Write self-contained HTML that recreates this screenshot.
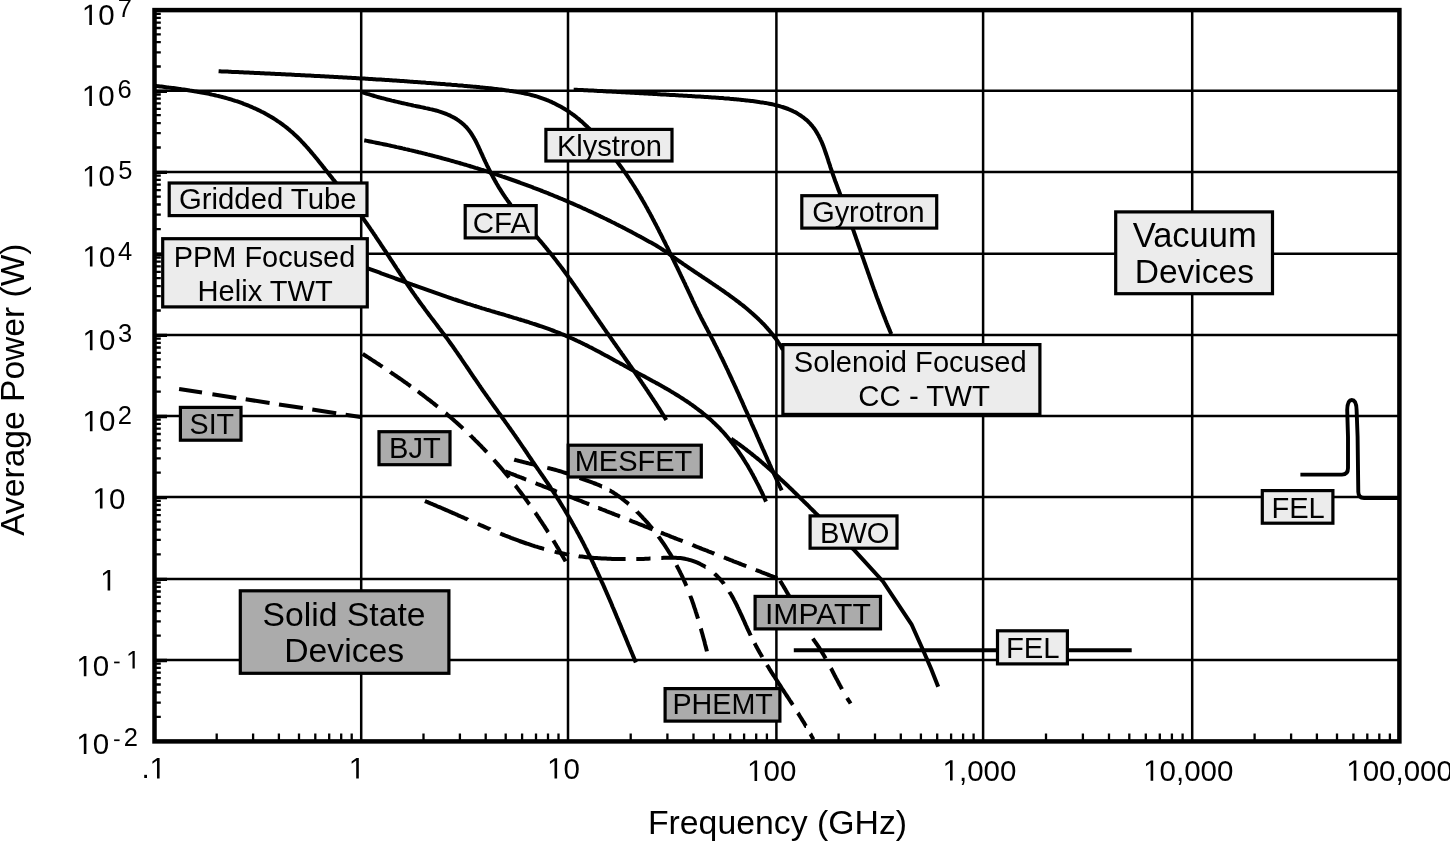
<!DOCTYPE html>
<html><head><meta charset="utf-8"><style>
html,body{margin:0;padding:0;background:#fff;overflow:hidden;}
svg{display:block;will-change:transform;}
text{font-family:"Liberation Sans",sans-serif;fill:#000;}
</style></head><body>
<svg width="1450" height="841" viewBox="0 0 1450 841">
<rect width="1450" height="841" fill="#fff"/>
<line x1="361.2" y1="10.1" x2="361.2" y2="741.4" stroke="#000" stroke-width="2.5"/>
<line x1="568" y1="10.1" x2="568" y2="741.4" stroke="#000" stroke-width="2.5"/>
<line x1="776.4" y1="10.1" x2="776.4" y2="741.4" stroke="#000" stroke-width="2.5"/>
<line x1="983.1" y1="10.1" x2="983.1" y2="741.4" stroke="#000" stroke-width="2.5"/>
<line x1="1192.2" y1="10.1" x2="1192.2" y2="741.4" stroke="#000" stroke-width="2.5"/>
<line x1="154.5" y1="660" x2="1399.4" y2="660" stroke="#000" stroke-width="2.5"/>
<line x1="154.5" y1="578.9" x2="1399.4" y2="578.9" stroke="#000" stroke-width="2.5"/>
<line x1="154.5" y1="497.1" x2="1399.4" y2="497.1" stroke="#000" stroke-width="2.5"/>
<line x1="154.5" y1="416" x2="1399.4" y2="416" stroke="#000" stroke-width="2.5"/>
<line x1="154.5" y1="334.9" x2="1399.4" y2="334.9" stroke="#000" stroke-width="2.5"/>
<line x1="154.5" y1="253.8" x2="1399.4" y2="253.8" stroke="#000" stroke-width="2.5"/>
<line x1="154.5" y1="171.9" x2="1399.4" y2="171.9" stroke="#000" stroke-width="2.5"/>
<line x1="154.5" y1="90.8" x2="1399.4" y2="90.8" stroke="#000" stroke-width="2.5"/>
<path d="M154.5,716.9h6.3 M154.5,702.6h6.3 M154.5,692.4h6.3 M154.5,684.5h6.3 M154.5,678.1h6.3 M154.5,672.6h6.3 M154.5,667.9h6.3 M154.5,663.7h6.3 M154.5,635.6h6.3 M154.5,621.3h6.3 M154.5,611.2h6.3 M154.5,603.3h6.3 M154.5,596.9h6.3 M154.5,591.5h6.3 M154.5,586.8h6.3 M154.5,582.6h6.3 M154.5,554.3h6.3 M154.5,539.9h6.3 M154.5,529.7h6.3 M154.5,521.7h6.3 M154.5,515.2h6.3 M154.5,509.8h6.3 M154.5,505h6.3 M154.5,500.8h6.3 M154.5,472.7h6.3 M154.5,458.4h6.3 M154.5,448.3h6.3 M154.5,440.4h6.3 M154.5,434h6.3 M154.5,428.6h6.3 M154.5,423.9h6.3 M154.5,419.7h6.3 M154.5,391.6h6.3 M154.5,377.3h6.3 M154.5,367.2h6.3 M154.5,359.3h6.3 M154.5,352.9h6.3 M154.5,347.5h6.3 M154.5,342.8h6.3 M154.5,338.6h6.3 M154.5,310.5h6.3 M154.5,296.2h6.3 M154.5,286.1h6.3 M154.5,278.2h6.3 M154.5,271.8h6.3 M154.5,266.4h6.3 M154.5,261.7h6.3 M154.5,257.5h6.3 M154.5,229.1h6.3 M154.5,214.7h6.3 M154.5,204.5h6.3 M154.5,196.6h6.3 M154.5,190.1h6.3 M154.5,184.6h6.3 M154.5,179.8h6.3 M154.5,175.6h6.3 M154.5,147.5h6.3 M154.5,133.2h6.3 M154.5,123.1h6.3 M154.5,115.2h6.3 M154.5,108.8h6.3 M154.5,103.4h6.3 M154.5,98.7h6.3 M154.5,94.5h6.3 M154.5,66.5h6.3 M154.5,52.3h6.3 M154.5,42.2h6.3 M154.5,34.4h6.3 M154.5,28h6.3 M154.5,22.6h6.3 M154.5,17.9h6.3 M154.5,13.8h6.3 M216.7,741.4v-7.8 M253.1,741.4v-7.8 M278.9,741.4v-7.8 M299,741.4v-7.8 M315.3,741.4v-7.8 M329.2,741.4v-7.8 M341.2,741.4v-7.8 M351.7,741.4v-7.8 M423.5,741.4v-7.8 M459.9,741.4v-7.8 M485.7,741.4v-7.8 M505.7,741.4v-7.8 M522.1,741.4v-7.8 M536,741.4v-7.8 M548,741.4v-7.8 M558.5,741.4v-7.8 M630.7,741.4v-7.8 M667.4,741.4v-7.8 M693.5,741.4v-7.8 M713.7,741.4v-7.8 M730.2,741.4v-7.8 M744.1,741.4v-7.8 M756.2,741.4v-7.8 M766.9,741.4v-7.8 M838.6,741.4v-7.8 M875,741.4v-7.8 M900.8,741.4v-7.8 M920.9,741.4v-7.8 M937.2,741.4v-7.8 M951.1,741.4v-7.8 M963.1,741.4v-7.8 M973.6,741.4v-7.8 M1046,741.4v-7.8 M1082.9,741.4v-7.8 M1109,741.4v-7.8 M1129.3,741.4v-7.8 M1145.8,741.4v-7.8 M1159.8,741.4v-7.8 M1171.9,741.4v-7.8 M1182.6,741.4v-7.8 M1254.6,741.4v-7.8 M1291.1,741.4v-7.8 M1316.9,741.4v-7.8 M1337,741.4v-7.8 M1353.4,741.4v-7.8 M1367.3,741.4v-7.8 M1379.3,741.4v-7.8 M1389.9,741.4v-7.8" stroke="#000" stroke-width="2.3" fill="none"/>
<path d="M154.5,660.5h12.5 M154.5,579.4h12.5 M154.5,497.6h12.5 M154.5,416.5h12.5 M154.5,335.4h12.5 M154.5,254.3h12.5 M154.5,172.4h12.5 M154.5,91.3h12.5" stroke="#000" stroke-width="3.3" fill="none"/>
<path d="M155.5,85.9 L157.0,86.1 L158.5,86.2 L160.0,86.4 L161.5,86.6 L163.0,86.8 L164.4,87.0 L165.9,87.2 L167.4,87.4 L168.9,87.6 L170.4,87.7 L171.9,87.9 L173.4,88.1 L174.9,88.3 L176.4,88.5 L177.9,88.7 L179.4,88.9 L180.8,89.1 L182.3,89.4 L183.8,89.6 L185.3,89.8 L186.8,90.0 L188.3,90.2 L189.8,90.5 L191.3,90.7 L192.8,90.9 L194.2,91.2 L195.7,91.4 L197.2,91.7 L198.7,92.0 L200.2,92.2 L201.6,92.5 L203.1,92.8 L204.6,93.0 L206.1,93.3 L207.6,93.6 L209.0,93.9 L210.5,94.2 L212.0,94.6 L213.4,94.9 L214.9,95.2 L216.4,95.6 L217.8,95.9 L219.3,96.3 L220.7,96.6 L222.2,97.0 L223.6,97.4 L225.1,97.8 L226.5,98.2 L228.0,98.6 L229.4,99.0 L230.9,99.4 L232.3,99.9 L233.7,100.3 L235.2,100.8 L236.6,101.2 L238.0,101.7 L239.4,102.2 L240.8,102.7 L242.3,103.2 L243.7,103.8 L245.1,104.3 L246.5,104.8 L247.9,105.4 L249.3,106.0 L250.7,106.6 L252.1,107.2 L253.4,107.8 L254.8,108.4 L256.2,109.0 L257.5,109.7 L258.9,110.3 L260.3,111.0 L261.6,111.7 L262.9,112.3 L264.3,113.0 L265.6,113.8 L266.9,114.5 L268.2,115.2 L269.5,116.0 L270.8,116.7 L272.1,117.5 L273.4,118.3 L274.7,119.1 L275.9,119.9 L277.2,120.8 L278.4,121.6 L279.7,122.4 L280.9,123.3 L282.1,124.2 L283.3,125.1 L284.5,126.0 L285.7,126.9 L286.9,127.8 L288.0,128.8 L289.2,129.7 L290.3,130.7 L291.5,131.7 L292.6,132.6 L293.7,133.7 L294.8,134.7 L295.9,135.7 L297.0,136.7 L298.0,137.8 L299.1,138.8 L300.2,139.9 L301.2,141.0 L302.2,142.1 L303.3,143.2 L304.3,144.3 L305.3,145.4 L306.3,146.5 L307.3,147.6 L308.3,148.7 L309.3,149.9 L310.3,151.0 L311.2,152.2 L312.2,153.3 L313.2,154.5 L314.2,155.6 L315.1,156.8 L316.1,158.0 L317.0,159.1 L318.0,160.3 L318.9,161.5 L319.9,162.7 L320.8,163.9 L321.8,165.0 L322.7,166.2 L323.6,167.4 L324.6,168.6 L325.5,169.8 L326.5,170.9 L327.4,172.1 L328.3,173.3 L329.3,174.5 L330.2,175.7 L331.2,176.8 L332.1,178.0 L333.0,179.2 L334.0,180.4 L334.9,181.5 L335.9,182.7 L336.8,183.9 L337.7,185.1 L338.7,186.3 L339.6,187.4 L340.5,188.6 L341.4,189.8 L342.4,191.0 L343.3,192.2 L344.2,193.4 L345.1,194.5 L346.1,195.7 L347.0,196.9 L347.9,198.1 L348.8,199.3 L349.7,200.5 L350.7,201.7 L351.6,202.9 L352.5,204.0 L353.4,205.2 L354.3,206.4 L355.2,207.6 L356.1,208.8 L357.0,210.0 L357.9,211.2 L358.8,212.5 L359.7,213.7 L360.5,214.9 L361.4,216.1 L362.3,217.3 L363.2,218.5 L364.1,219.7 L364.9,221.0 L365.8,222.2 L366.7,223.4 L367.5,224.7 L368.4,225.9 L369.2,227.1 L370.1,228.4 L370.9,229.6 L371.8,230.8 L372.6,232.1 L373.5,233.3 L374.3,234.6 L375.2,235.8 L376.0,237.1 L376.8,238.3 L377.7,239.6 L378.5,240.8 L379.4,242.1 L380.2,243.3 L381.0,244.6 L381.8,245.8 L382.7,247.1 L383.5,248.3 L384.3,249.6 L385.2,250.8 L386.0,252.1 L386.8,253.4 L387.6,254.6 L388.5,255.9 L389.3,257.1 L390.1,258.4 L390.9,259.7 L391.8,260.9 L392.6,262.2 L393.4,263.4 L394.2,264.7 L395.1,266.0 L395.9,267.2 L396.7,268.5 L397.5,269.7 L398.4,271.0 L399.2,272.2 L400.0,273.5 L400.9,274.8 L401.7,276.0 L402.5,277.3 L403.4,278.5 L404.2,279.8 L405.0,281.0 L405.9,282.3 L406.7,283.5 L407.6,284.8 L408.4,286.0 L409.3,287.2 L410.1,288.5 L411.0,289.7 L411.8,291.0 L412.7,292.2 L413.5,293.4 L414.4,294.6 L415.3,295.9 L416.1,297.1 L417.0,298.3 L417.9,299.5 L418.7,300.8 L419.6,302.0 L420.5,303.2 L421.4,304.4 L422.3,305.6 L423.2,306.8 L424.1,308.0 L424.9,309.2 L425.8,310.4 L426.7,311.6 L427.6,312.8 L428.5,314.0 L429.4,315.2 L430.3,316.4 L431.2,317.6 L432.1,318.8 L433.1,320.0 L434.0,321.2 L434.9,322.4 L435.8,323.6 L436.7,324.8 L437.6,326.0 L438.5,327.2 L439.4,328.4 L440.3,329.5 L441.2,330.7 L442.1,331.9 L443.0,333.1 L443.9,334.3 L444.8,335.5 L445.7,336.7 L446.6,337.9 L447.5,339.1 L448.4,340.3 L449.3,341.6 L450.1,342.8 L451.0,344.0 L451.9,345.2 L452.8,346.4 L453.6,347.7 L454.5,348.9 L455.3,350.1 L456.2,351.4 L457.1,352.6 L457.9,353.8 L458.8,355.1 L459.6,356.3 L460.5,357.5 L461.3,358.8 L462.1,360.0 L463.0,361.3 L463.8,362.5 L464.7,363.8 L465.5,365.0 L466.3,366.2 L467.2,367.5 L468.0,368.7 L468.9,370.0 L469.7,371.2 L470.5,372.5 L471.4,373.7 L472.2,375.0 L473.1,376.2 L473.9,377.5 L474.8,378.7 L475.6,379.9 L476.5,381.2 L477.3,382.4 L478.2,383.7 L479.0,384.9 L479.9,386.1 L480.7,387.4 L481.6,388.6 L482.4,389.8 L483.3,391.1 L484.2,392.3 L485.0,393.5 L485.9,394.8 L486.8,396.0 L487.6,397.2 L488.5,398.4 L489.4,399.7 L490.2,400.9 L491.1,402.1 L492.0,403.3 L492.9,404.6 L493.7,405.8 L494.6,407.0 L495.5,408.2 L496.4,409.4 L497.3,410.7 L498.1,411.9 L499.0,413.1 L499.9,414.3 L500.8,415.5 L501.6,416.8 L502.5,418.0 L503.4,419.2 L504.3,420.4 L505.1,421.6 L506.0,422.9 L506.9,424.1 L507.8,425.3 L508.6,426.5 L509.5,427.8 L510.4,429.0 L511.2,430.2 L512.1,431.4 L513.0,432.7 L513.8,433.9 L514.7,435.1 L515.6,436.4 L516.4,437.6 L517.3,438.8 L518.1,440.1 L519.0,441.3 L519.8,442.5 L520.7,443.8 L521.5,445.0 L522.4,446.3 L523.2,447.5 L524.0,448.7 L524.9,450.0 L525.7,451.2 L526.6,452.5 L527.4,453.7 L528.2,455.0 L529.1,456.2 L529.9,457.5 L530.8,458.7 L531.6,459.9 L532.4,461.2 L533.3,462.4 L534.1,463.7 L535.0,464.9 L535.8,466.2 L536.7,467.4 L537.5,468.6 L538.4,469.9 L539.3,471.1 L540.1,472.3 L541.0,473.6 L541.8,474.8 L542.7,476.0 L543.5,477.3 L544.4,478.5 L545.2,479.8 L546.1,481.0 L546.9,482.2 L547.8,483.5 L548.6,484.7 L549.5,486.0 L550.3,487.2 L551.1,488.5 L551.9,489.7 L552.8,491.0 L553.6,492.3 L554.4,493.5 L555.2,494.8 L556.0,496.0 L556.9,497.3 L557.7,498.6 L558.5,499.8 L559.3,501.1 L560.1,502.4 L560.8,503.7 L561.6,504.9 L562.4,506.2 L563.2,507.5 L564.0,508.8 L564.8,510.1 L565.5,511.4 L566.3,512.7 L567.1,514.0 L567.8,515.2 L568.6,516.5 L569.3,517.8 L570.1,519.1 L570.8,520.4 L571.6,521.7 L572.3,523.0 L573.1,524.4 L573.8,525.7 L574.5,527.0 L575.3,528.3 L576.0,529.6 L576.7,530.9 L577.4,532.2 L578.2,533.6 L578.9,534.9 L579.6,536.2 L580.3,537.5 L581.0,538.8 L581.7,540.2 L582.4,541.5 L583.1,542.8 L583.8,544.2 L584.5,545.5 L585.1,546.8 L585.8,548.2 L586.5,549.5 L587.2,550.9 L587.8,552.2 L588.5,553.6 L589.2,554.9 L589.8,556.2 L590.5,557.6 L591.2,558.9 L591.8,560.3 L592.5,561.7 L593.1,563.0 L593.8,564.4 L594.4,565.7 L595.0,567.1 L595.7,568.4 L596.3,569.8 L597.0,571.2 L597.6,572.5 L598.2,573.9 L598.8,575.3 L599.5,576.6 L600.1,578.0 L600.7,579.4 L601.3,580.7 L601.9,582.1 L602.6,583.5 L603.2,584.9 L603.8,586.2 L604.4,587.6 L605.0,589.0 L605.6,590.4 L606.2,591.7 L606.8,593.1 L607.4,594.5 L608.0,595.9 L608.6,597.3 L609.2,598.7 L609.8,600.0 L610.4,601.4 L611.0,602.8 L611.6,604.2 L612.1,605.6 L612.7,607.0 L613.3,608.3 L613.9,609.7 L614.5,611.1 L615.1,612.5 L615.6,613.9 L616.2,615.3 L616.8,616.7 L617.4,618.1 L618.0,619.4 L618.5,620.8 L619.1,622.2 L619.7,623.6 L620.3,625.0 L620.9,626.4 L621.4,627.8 L622.0,629.2 L622.6,630.6 L623.2,632.0 L623.7,633.3 L624.3,634.7 L624.9,636.1 L625.5,637.5 L626.0,638.9 L626.6,640.3 L627.2,641.7 L627.8,643.1 L628.3,644.5 L628.9,645.8 L629.5,647.2 L630.1,648.6 L630.6,650.0 L631.2,651.4 L631.8,652.8 L632.4,654.2 L632.9,655.6 L633.5,656.9 L634.1,658.3 L634.7,659.7 L635.3,661.1 L635.8,662.5" fill="none" stroke="#000" stroke-width="4.0" stroke-linejoin="round" stroke-linecap="butt"/>
<path d="M218.6,71.2 L220.1,71.3 L221.6,71.4 L223.1,71.4 L224.6,71.5 L226.1,71.6 L227.6,71.6 L229.1,71.7 L230.6,71.8 L232.1,71.9 L233.6,71.9 L235.1,72.0 L236.6,72.1 L238.1,72.1 L239.6,72.2 L241.2,72.3 L242.7,72.3 L244.2,72.4 L245.7,72.5 L247.2,72.6 L248.7,72.6 L250.2,72.7 L251.7,72.8 L253.2,72.8 L254.7,72.9 L256.2,73.0 L257.7,73.0 L259.2,73.1 L260.7,73.2 L262.2,73.3 L263.7,73.3 L265.2,73.4 L266.7,73.5 L268.2,73.5 L269.7,73.6 L271.2,73.7 L272.7,73.8 L274.2,73.8 L275.7,73.9 L277.2,74.0 L278.7,74.1 L280.2,74.1 L281.8,74.2 L283.3,74.3 L284.8,74.3 L286.3,74.4 L287.8,74.5 L289.3,74.6 L290.8,74.6 L292.3,74.7 L293.8,74.8 L295.3,74.9 L296.8,74.9 L298.3,75.0 L299.8,75.1 L301.3,75.2 L302.8,75.2 L304.3,75.3 L305.8,75.4 L307.3,75.5 L308.8,75.6 L310.3,75.6 L311.8,75.7 L313.3,75.8 L314.8,75.9 L316.3,75.9 L317.8,76.0 L319.4,76.1 L320.9,76.2 L322.4,76.3 L323.9,76.3 L325.4,76.4 L326.9,76.5 L328.4,76.6 L329.9,76.7 L331.4,76.7 L332.9,76.8 L334.4,76.9 L335.9,77.0 L337.4,77.1 L338.9,77.2 L340.4,77.2 L341.9,77.3 L343.4,77.4 L344.9,77.5 L346.4,77.6 L347.9,77.7 L349.4,77.7 L350.9,77.8 L352.4,77.9 L353.9,78.0 L355.4,78.1 L356.9,78.2 L358.4,78.3 L359.9,78.4 L361.5,78.4 L363.0,78.5 L364.5,78.6 L366.0,78.7 L367.5,78.8 L369.0,78.9 L370.5,79.0 L372.0,79.1 L373.5,79.2 L375.0,79.3 L376.5,79.4 L378.0,79.5 L379.5,79.6 L381.0,79.6 L382.5,79.7 L384.0,79.8 L385.5,79.9 L387.0,80.0 L388.5,80.1 L390.0,80.2 L391.5,80.3 L393.0,80.4 L394.5,80.5 L396.0,80.6 L397.5,80.7 L399.0,80.8 L400.5,80.9 L402.0,81.0 L403.5,81.1 L405.0,81.2 L406.5,81.3 L408.0,81.4 L409.5,81.6 L411.0,81.7 L412.5,81.8 L414.0,81.9 L415.5,82.0 L417.0,82.1 L418.5,82.2 L420.0,82.3 L421.5,82.4 L423.0,82.5 L424.5,82.6 L426.0,82.8 L427.5,82.9 L429.0,83.0 L430.5,83.1 L432.0,83.2 L433.5,83.3 L435.0,83.4 L436.5,83.6 L438.0,83.7 L439.5,83.8 L441.0,83.9 L442.5,84.0 L444.0,84.1 L445.5,84.3 L447.0,84.4 L448.5,84.5 L450.0,84.6 L451.5,84.8 L453.0,84.9 L454.5,85.0 L456.0,85.1 L457.5,85.3 L459.0,85.4 L460.5,85.5 L462.0,85.6 L463.5,85.8 L465.0,85.9 L466.5,86.0 L468.0,86.2 L469.5,86.3 L471.0,86.4 L472.5,86.6 L474.0,86.7 L475.5,86.8 L477.0,87.0 L478.5,87.1 L480.0,87.3 L481.5,87.4 L483.0,87.6 L484.5,87.7 L486.0,87.9 L487.5,88.0 L489.0,88.2 L490.5,88.3 L492.0,88.5 L493.5,88.7 L495.0,88.9 L496.4,89.0 L497.9,89.2 L499.4,89.4 L500.9,89.6 L502.4,89.8 L503.9,90.0 L505.4,90.2 L506.9,90.4 L508.4,90.6 L509.9,90.9 L511.4,91.1 L512.9,91.3 L514.4,91.6 L515.9,91.8 L517.4,92.0 L518.9,92.3 L520.4,92.6 L521.9,92.9 L523.4,93.1 L524.9,93.5 L526.3,93.8 L527.8,94.1 L529.3,94.4 L530.7,94.8 L532.2,95.2 L533.7,95.6 L535.1,96.0 L536.6,96.4 L538.0,96.8 L539.4,97.3 L540.8,97.8 L542.3,98.3 L543.7,98.8 L545.1,99.3 L546.5,99.9 L547.8,100.4 L549.2,101.0 L550.6,101.6 L552.0,102.2 L553.3,102.9 L554.7,103.5 L556.0,104.2 L557.3,104.9 L558.6,105.6 L560.0,106.3 L561.3,107.0 L562.6,107.8 L563.8,108.5 L565.1,109.3 L566.4,110.1 L567.6,110.9 L568.9,111.7 L570.1,112.6 L571.3,113.4 L572.6,114.3 L573.8,115.2 L575.0,116.1 L576.2,117.0 L577.3,118.0 L578.5,118.9 L579.7,119.9 L580.8,120.9 L581.9,121.8 L583.1,122.9 L584.2,123.9 L585.3,124.9 L586.4,125.9 L587.5,127.0 L588.5,128.1 L589.6,129.1 L590.6,130.2 L591.7,131.3 L592.7,132.4 L593.8,133.5 L594.8,134.7 L595.8,135.8 L596.8,136.9 L597.8,138.0 L598.8,139.2 L599.8,140.3 L600.8,141.5 L601.8,142.6 L602.8,143.8 L603.8,145.0 L604.7,146.1 L605.7,147.3 L606.7,148.4 L607.6,149.6 L608.6,150.8 L609.5,151.9 L610.5,153.1 L611.4,154.3 L612.3,155.5 L613.3,156.7 L614.2,157.8 L615.1,159.0 L616.0,160.2 L616.9,161.4 L617.8,162.6 L618.7,163.8 L619.6,165.0 L620.5,166.2 L621.4,167.4 L622.3,168.6 L623.1,169.8 L624.0,171.1 L624.9,172.3 L625.7,173.5 L626.6,174.7 L627.4,176.0 L628.3,177.2 L629.1,178.5 L629.9,179.7 L630.7,181.0 L631.6,182.2 L632.4,183.5 L633.2,184.8 L634.0,186.0 L634.8,187.3 L635.6,188.6 L636.4,189.8 L637.1,191.1 L637.9,192.4 L638.7,193.7 L639.5,195.0 L640.2,196.3 L641.0,197.6 L641.8,198.9 L642.5,200.2 L643.3,201.5 L644.0,202.8 L644.8,204.1 L645.5,205.4 L646.2,206.7 L647.0,208.0 L647.7,209.4 L648.4,210.7 L649.1,212.0 L649.9,213.3 L650.6,214.7 L651.3,216.0 L652.0,217.3 L652.7,218.7 L653.4,220.0 L654.1,221.3 L654.8,222.7 L655.5,224.0 L656.2,225.3 L656.9,226.7 L657.6,228.0 L658.3,229.4 L659.0,230.7 L659.6,232.1 L660.3,233.4 L661.0,234.8 L661.7,236.1 L662.4,237.5 L663.0,238.8 L663.7,240.2 L664.4,241.5 L665.1,242.9 L665.7,244.2 L666.4,245.6 L667.1,246.9 L667.7,248.3 L668.4,249.6 L669.1,251.0 L669.7,252.3 L670.4,253.7 L671.0,255.0 L671.7,256.4 L672.4,257.7 L673.0,259.1 L673.7,260.4 L674.3,261.8 L675.0,263.1 L675.7,264.5 L676.3,265.8 L677.0,267.2 L677.6,268.5 L678.3,269.9 L678.9,271.2 L679.6,272.6 L680.2,273.9 L680.9,275.3 L681.5,276.6 L682.2,278.0 L682.8,279.4 L683.5,280.7 L684.1,282.1 L684.8,283.4 L685.4,284.8 L686.0,286.1 L686.7,287.5 L687.3,288.9 L688.0,290.2 L688.6,291.6 L689.2,292.9 L689.9,294.3 L690.5,295.7 L691.1,297.0 L691.8,298.4 L692.4,299.8 L693.0,301.1 L693.7,302.5 L694.3,303.8 L695.0,305.2 L695.6,306.6 L696.3,307.9 L696.9,309.3 L697.6,310.6 L698.2,312.0 L698.9,313.3 L699.6,314.7 L700.3,316.0 L700.9,317.4 L701.6,318.7 L702.3,320.0 L703.0,321.4 L703.7,322.7 L704.4,324.0 L705.1,325.4 L705.8,326.7 L706.5,328.0 L707.2,329.3 L707.9,330.7 L708.6,332.0 L709.3,333.3 L710.0,334.7 L710.7,336.0 L711.4,337.3 L712.1,338.7 L712.8,340.0 L713.5,341.3 L714.1,342.7 L714.8,344.0 L715.5,345.4 L716.2,346.7 L716.8,348.0 L717.5,349.4 L718.2,350.7 L718.9,352.1 L719.5,353.4 L720.2,354.8 L720.8,356.1 L721.5,357.5 L722.2,358.8 L722.8,360.2 L723.5,361.5 L724.1,362.9 L724.8,364.2 L725.4,365.6 L726.1,367.0 L726.7,368.3 L727.4,369.7 L728.0,371.0 L728.6,372.4 L729.3,373.8 L729.9,375.1 L730.5,376.5 L731.2,377.9 L731.8,379.2 L732.4,380.6 L733.1,382.0 L733.7,383.3 L734.3,384.7 L735.0,386.1 L735.6,387.4 L736.2,388.8 L736.8,390.2 L737.4,391.5 L738.1,392.9 L738.7,394.3 L739.3,395.7 L739.9,397.0 L740.5,398.4 L741.2,399.8 L741.8,401.1 L742.4,402.5 L743.0,403.9 L743.6,405.3 L744.2,406.6 L744.8,408.0 L745.4,409.4 L746.1,410.8 L746.7,412.2 L747.3,413.5 L747.9,414.9 L748.5,416.3 L749.1,417.7 L749.7,419.0 L750.3,420.4 L750.9,421.8 L751.5,423.2 L752.1,424.6 L752.7,425.9 L753.3,427.3 L753.9,428.7 L754.6,430.1 L755.2,431.4 L755.8,432.8 L756.4,434.2 L757.0,435.6 L757.6,437.0 L758.2,438.3 L758.8,439.7 L759.4,441.1 L760.0,442.5 L760.6,443.8 L761.2,445.2 L761.8,446.6 L762.4,448.0 L763.0,449.4 L763.7,450.7 L764.3,452.1 L764.9,453.5 L765.5,454.9 L766.1,456.2 L766.7,457.6 L767.3,459.0 L767.9,460.4 L768.6,461.7 L769.2,463.1 L769.8,464.5 L770.4,465.8 L771.0,467.2 L771.6,468.6 L772.3,470.0 L772.9,471.3 L773.5,472.7 L774.1,474.1 L774.7,475.4 L775.4,476.8 L776.0,478.2 L776.6,479.5 L777.3,480.9 L777.9,482.3 L778.5,483.6 L779.2,485.0 L779.8,486.4 L780.4,487.7 L781.1,489.1 L781.7,490.4" fill="none" stroke="#000" stroke-width="4.0" stroke-linejoin="round" stroke-linecap="butt"/>
<path d="M573.7,89.7 L575.2,89.7 L576.7,89.8 L578.2,89.9 L579.7,90.0 L581.2,90.0 L582.7,90.1 L584.2,90.2 L585.7,90.3 L587.2,90.3 L588.7,90.4 L590.2,90.5 L591.7,90.6 L593.2,90.6 L594.7,90.7 L596.2,90.8 L597.7,90.9 L599.2,91.0 L600.7,91.0 L602.2,91.1 L603.7,91.2 L605.2,91.3 L606.7,91.4 L608.2,91.4 L609.7,91.5 L611.2,91.6 L612.7,91.7 L614.2,91.8 L615.7,91.8 L617.3,91.9 L618.8,92.0 L620.3,92.1 L621.8,92.2 L623.3,92.2 L624.8,92.3 L626.3,92.4 L627.8,92.5 L629.3,92.6 L630.9,92.7 L632.4,92.7 L633.9,92.8 L635.4,92.9 L636.9,93.0 L638.4,93.1 L639.9,93.2 L641.4,93.2 L643.0,93.3 L644.5,93.4 L646.0,93.5 L647.5,93.6 L649.0,93.7 L650.5,93.7 L652.0,93.8 L653.5,93.9 L655.0,94.0 L656.6,94.1 L658.1,94.2 L659.6,94.3 L661.1,94.4 L662.6,94.4 L664.1,94.5 L665.6,94.6 L667.1,94.7 L668.6,94.8 L670.1,94.9 L671.6,95.0 L673.1,95.0 L674.6,95.1 L676.2,95.2 L677.7,95.3 L679.2,95.4 L680.7,95.5 L682.2,95.6 L683.7,95.7 L685.2,95.8 L686.7,95.8 L688.2,95.9 L689.7,96.0 L691.2,96.1 L692.7,96.2 L694.2,96.3 L695.6,96.4 L697.1,96.5 L698.6,96.6 L700.1,96.6 L701.6,96.7 L703.1,96.8 L704.6,96.9 L706.1,97.0 L707.6,97.1 L709.1,97.2 L710.6,97.3 L712.0,97.4 L713.5,97.5 L715.0,97.6 L716.5,97.7 L718.0,97.8 L719.5,97.9 L721.0,98.0 L722.5,98.1 L724.0,98.3 L725.4,98.4 L726.9,98.5 L728.4,98.6 L729.9,98.8 L731.4,98.9 L732.9,99.0 L734.4,99.2 L735.9,99.3 L737.4,99.4 L738.9,99.6 L740.4,99.7 L741.9,99.9 L743.4,100.1 L744.9,100.2 L746.4,100.4 L748.0,100.6 L749.5,100.7 L751.0,100.9 L752.5,101.1 L754.0,101.3 L755.5,101.5 L757.1,101.7 L758.6,101.9 L760.1,102.2 L761.6,102.4 L763.1,102.6 L764.7,102.9 L766.2,103.1 L767.7,103.4 L769.2,103.7 L770.7,104.0 L772.2,104.3 L773.7,104.6 L775.2,105.0 L776.7,105.4 L778.1,105.7 L779.6,106.1 L781.1,106.6 L782.5,107.0 L783.9,107.5 L785.4,108.0 L786.8,108.5 L788.2,109.0 L789.6,109.6 L790.9,110.2 L792.3,110.8 L793.6,111.5 L795.0,112.1 L796.3,112.8 L797.6,113.6 L798.8,114.4 L800.1,115.2 L801.3,116.0 L802.5,116.9 L803.7,117.7 L804.9,118.7 L806.0,119.6 L807.1,120.6 L808.2,121.6 L809.2,122.7 L810.2,123.7 L811.2,124.8 L812.2,125.9 L813.1,127.1 L814.0,128.3 L814.8,129.4 L815.7,130.7 L816.4,131.9 L817.2,133.2 L817.9,134.5 L818.7,135.8 L819.3,137.1 L820.0,138.4 L820.6,139.8 L821.3,141.2 L821.9,142.5 L822.4,143.9 L823.0,145.3 L823.6,146.8 L824.1,148.2 L824.6,149.6 L825.1,151.1 L825.6,152.5 L826.1,154.0 L826.6,155.4 L827.1,156.9 L827.6,158.4 L828.1,159.8 L828.5,161.3 L829.0,162.8 L829.5,164.2 L830.0,165.7 L830.4,167.1 L830.9,168.6 L831.4,170.0 L831.9,171.5 L832.4,172.9 L832.9,174.4 L833.4,175.8 L833.9,177.2 L834.4,178.6 L834.9,180.1 L835.4,181.5 L836.0,182.9 L836.5,184.3 L837.0,185.7 L837.5,187.1 L838.0,188.5 L838.5,189.9 L839.1,191.3 L839.6,192.7 L840.1,194.2 L840.6,195.6 L841.2,197.0 L841.7,198.4 L842.2,199.8 L842.7,201.2 L843.3,202.6 L843.8,204.0 L844.3,205.4 L844.8,206.8 L845.3,208.2 L845.9,209.6 L846.4,211.0 L846.9,212.4 L847.4,213.8 L847.9,215.2 L848.4,216.6 L849.0,218.0 L849.5,219.4 L850.0,220.8 L850.5,222.2 L851.0,223.6 L851.5,225.1 L852.0,226.5 L852.5,227.9 L853.0,229.3 L853.5,230.7 L854.0,232.1 L854.5,233.6 L855.0,235.0 L855.5,236.4 L856.0,237.8 L856.5,239.3 L857.0,240.7 L857.5,242.1 L858.0,243.5 L858.5,245.0 L859.0,246.4 L859.5,247.8 L860.0,249.2 L860.5,250.7 L860.9,252.1 L861.4,253.5 L861.9,254.9 L862.4,256.4 L862.9,257.8 L863.4,259.2 L863.9,260.6 L864.4,262.1 L864.9,263.5 L865.4,264.9 L865.9,266.4 L866.4,267.8 L866.9,269.2 L867.4,270.6 L867.9,272.1 L868.4,273.5 L868.9,274.9 L869.4,276.3 L869.9,277.8 L870.4,279.2 L870.9,280.6 L871.4,282.0 L871.9,283.5 L872.4,284.9 L872.9,286.3 L873.4,287.7 L873.9,289.2 L874.5,290.6 L875.0,292.0 L875.5,293.4 L876.0,294.8 L876.5,296.3 L877.0,297.7 L877.6,299.1 L878.1,300.5 L878.6,301.9 L879.1,303.3 L879.7,304.7 L880.2,306.2 L880.7,307.6 L881.3,309.0 L881.8,310.4 L882.3,311.8 L882.9,313.2 L883.4,314.6 L884.0,316.0 L884.5,317.4 L885.1,318.8 L885.6,320.2 L886.2,321.6 L886.7,323.0 L887.3,324.4 L887.8,325.8 L888.4,327.2 L889.0,328.5 L889.5,329.9 L890.1,331.3 L890.7,332.7 L891.3,334.1" fill="none" stroke="#000" stroke-width="4.0" stroke-linejoin="round" stroke-linecap="butt"/>
<path d="M361.2,91.9 L362.7,92.4 L364.1,92.9 L365.6,93.3 L367.1,93.8 L368.5,94.2 L370.0,94.7 L371.4,95.1 L372.9,95.5 L374.3,96.0 L375.8,96.4 L377.2,96.8 L378.7,97.2 L380.1,97.6 L381.5,98.0 L383.0,98.3 L384.4,98.7 L385.9,99.1 L387.3,99.5 L388.8,99.8 L390.2,100.2 L391.7,100.6 L393.1,100.9 L394.6,101.3 L396.0,101.6 L397.5,101.9 L398.9,102.3 L400.4,102.6 L401.9,103.0 L403.3,103.3 L404.8,103.6 L406.2,103.9 L407.7,104.3 L409.2,104.6 L410.7,104.9 L412.1,105.2 L413.6,105.6 L415.1,105.9 L416.6,106.2 L418.1,106.5 L419.6,106.8 L421.0,107.1 L422.5,107.4 L424.0,107.7 L425.6,108.1 L427.1,108.4 L428.6,108.7 L430.1,109.1 L431.6,109.4 L433.1,109.8 L434.5,110.1 L436.0,110.5 L437.5,110.9 L439.0,111.4 L440.4,111.8 L441.9,112.3 L443.3,112.8 L444.7,113.3 L446.1,113.9 L447.5,114.5 L448.9,115.1 L450.3,115.7 L451.6,116.4 L452.9,117.1 L454.3,117.8 L455.5,118.5 L456.8,119.3 L458.0,120.1 L459.2,121.0 L460.4,121.9 L461.6,122.8 L462.7,123.7 L463.8,124.7 L464.8,125.7 L465.9,126.7 L466.9,127.8 L467.8,128.9 L468.7,130.1 L469.6,131.2 L470.5,132.4 L471.3,133.7 L472.1,134.9 L472.9,136.2 L473.7,137.5 L474.4,138.8 L475.2,140.1 L475.9,141.5 L476.6,142.9 L477.2,144.2 L477.9,145.6 L478.6,147.0 L479.2,148.4 L479.9,149.8 L480.5,151.2 L481.1,152.6 L481.8,154.0 L482.4,155.4 L483.0,156.8 L483.7,158.2 L484.3,159.6 L485.0,161.0 L485.6,162.3 L486.3,163.7 L486.9,165.1 L487.6,166.5 L488.3,167.8 L488.9,169.2 L489.6,170.5 L490.3,171.9 L491.0,173.2 L491.7,174.5 L492.4,175.9 L493.1,177.2 L493.8,178.5 L494.5,179.8 L495.2,181.1 L496.0,182.4 L496.7,183.7 L497.5,185.0 L498.2,186.3 L499.0,187.6 L499.8,188.8 L500.6,190.1 L501.4,191.4 L502.2,192.6 L503.0,193.9 L503.8,195.1 L504.7,196.4 L505.5,197.6 L506.4,198.8 L507.2,200.0 L508.1,201.3 L509.0,202.5 L509.9,203.7 L510.7,204.9 L511.6,206.1 L512.5,207.3 L513.5,208.5 L514.4,209.7 L515.3,210.9 L516.2,212.1 L517.2,213.2 L518.1,214.4 L519.0,215.6 L520.0,216.8 L520.9,217.9 L521.9,219.1 L522.8,220.3 L523.8,221.4 L524.8,222.6 L525.7,223.8 L526.7,224.9 L527.7,226.1 L528.7,227.3 L529.6,228.4 L530.6,229.6 L531.6,230.7 L532.6,231.9 L533.5,233.0 L534.5,234.2 L535.5,235.3 L536.5,236.5 L537.5,237.7 L538.4,238.8 L539.4,240.0 L540.4,241.1 L541.4,242.3 L542.4,243.5 L543.3,244.6 L544.3,245.8 L545.3,246.9 L546.2,248.1 L547.2,249.3 L548.1,250.5 L549.1,251.6 L550.1,252.8 L551.0,254.0 L552.0,255.2 L552.9,256.3 L553.8,257.5 L554.8,258.7 L555.7,259.9 L556.6,261.1 L557.5,262.3 L558.4,263.5 L559.4,264.7 L560.3,265.9 L561.2,267.1 L562.1,268.3 L563.0,269.5 L563.9,270.8 L564.8,272.0 L565.7,273.2 L566.5,274.4 L567.4,275.6 L568.3,276.8 L569.2,278.1 L570.1,279.3 L571.0,280.5 L571.8,281.8 L572.7,283.0 L573.6,284.2 L574.4,285.4 L575.3,286.7 L576.2,287.9 L577.0,289.1 L577.9,290.4 L578.8,291.6 L579.6,292.9 L580.5,294.1 L581.3,295.3 L582.2,296.6 L583.0,297.8 L583.9,299.1 L584.7,300.3 L585.6,301.5 L586.4,302.8 L587.3,304.0 L588.2,305.3 L589.0,306.5 L589.9,307.8 L590.7,309.0 L591.6,310.2 L592.4,311.5 L593.3,312.7 L594.1,314.0 L595.0,315.2 L595.8,316.5 L596.7,317.7 L597.5,318.9 L598.4,320.2 L599.2,321.4 L600.1,322.7 L601.0,323.9 L601.8,325.1 L602.7,326.4 L603.5,327.6 L604.4,328.9 L605.3,330.1 L606.1,331.3 L607.0,332.6 L607.9,333.8 L608.7,335.0 L609.6,336.3 L610.5,337.5 L611.3,338.8 L612.2,340.0 L613.1,341.2 L613.9,342.5 L614.8,343.7 L615.7,344.9 L616.5,346.2 L617.4,347.4 L618.3,348.6 L619.1,349.9 L620.0,351.1 L620.9,352.3 L621.7,353.6 L622.6,354.8 L623.5,356.0 L624.3,357.3 L625.2,358.5 L626.1,359.7 L626.9,361.0 L627.8,362.2 L628.7,363.5 L629.5,364.7 L630.4,365.9 L631.3,367.2 L632.1,368.4 L633.0,369.7 L633.8,370.9 L634.7,372.1 L635.6,373.4 L636.4,374.6 L637.3,375.9 L638.1,377.1 L639.0,378.3 L639.8,379.6 L640.7,380.8 L641.5,382.1 L642.4,383.3 L643.2,384.6 L644.1,385.8 L644.9,387.1 L645.8,388.3 L646.6,389.6 L647.5,390.8 L648.3,392.1 L649.1,393.3 L650.0,394.6 L650.8,395.8 L651.6,397.1 L652.5,398.4 L653.3,399.6 L654.1,400.9 L655.0,402.1 L655.8,403.4 L656.6,404.7 L657.4,405.9 L658.2,407.2 L659.1,408.5 L659.9,409.7 L660.7,411.0 L661.5,412.3 L662.3,413.6 L663.1,414.8 L663.9,416.1 L664.7,417.4 L665.5,418.7 L666.3,420.0" fill="none" stroke="#000" stroke-width="4.0" stroke-linejoin="round" stroke-linecap="butt"/>
<path d="M364.2,140.4 L365.7,140.6 L367.2,140.9 L368.7,141.2 L370.1,141.5 L371.6,141.8 L373.1,142.1 L374.6,142.4 L376.0,142.7 L377.5,143.0 L379.0,143.3 L380.5,143.6 L382.0,143.9 L383.4,144.2 L384.9,144.5 L386.4,144.8 L387.9,145.1 L389.3,145.4 L390.8,145.8 L392.3,146.1 L393.7,146.4 L395.2,146.7 L396.7,147.1 L398.2,147.4 L399.6,147.7 L401.1,148.0 L402.6,148.4 L404.0,148.7 L405.5,149.1 L407.0,149.4 L408.4,149.7 L409.9,150.1 L411.4,150.4 L412.8,150.8 L414.3,151.1 L415.8,151.5 L417.2,151.8 L418.7,152.2 L420.2,152.5 L421.6,152.9 L423.1,153.3 L424.6,153.6 L426.0,154.0 L427.5,154.4 L428.9,154.7 L430.4,155.1 L431.9,155.5 L433.3,155.9 L434.8,156.3 L436.2,156.6 L437.7,157.0 L439.1,157.4 L440.6,157.8 L442.1,158.2 L443.5,158.6 L445.0,159.0 L446.4,159.4 L447.9,159.8 L449.3,160.2 L450.8,160.6 L452.2,161.0 L453.7,161.4 L455.1,161.8 L456.6,162.2 L458.0,162.6 L459.5,163.0 L460.9,163.5 L462.4,163.9 L463.8,164.3 L465.3,164.7 L466.7,165.2 L468.1,165.6 L469.6,166.0 L471.0,166.5 L472.5,166.9 L473.9,167.3 L475.4,167.8 L476.8,168.2 L478.2,168.7 L479.7,169.1 L481.1,169.6 L482.5,170.0 L484.0,170.5 L485.4,170.9 L486.8,171.4 L488.3,171.8 L489.7,172.3 L491.1,172.8 L492.6,173.2 L494.0,173.7 L495.4,174.2 L496.9,174.6 L498.3,175.1 L499.7,175.6 L501.2,176.1 L502.6,176.6 L504.0,177.0 L505.4,177.5 L506.9,178.0 L508.3,178.5 L509.7,179.0 L511.1,179.5 L512.5,180.0 L514.0,180.5 L515.4,181.0 L516.8,181.5 L518.2,182.0 L519.6,182.5 L521.0,183.1 L522.5,183.6 L523.9,184.1 L525.3,184.6 L526.7,185.1 L528.1,185.7 L529.5,186.2 L530.9,186.7 L532.3,187.2 L533.7,187.8 L535.2,188.3 L536.6,188.8 L538.0,189.4 L539.4,189.9 L540.8,190.5 L542.2,191.0 L543.6,191.6 L545.0,192.1 L546.4,192.7 L547.8,193.2 L549.2,193.8 L550.6,194.4 L552.0,194.9 L553.4,195.5 L554.8,196.1 L556.1,196.6 L557.5,197.2 L558.9,197.8 L560.3,198.4 L561.7,198.9 L563.1,199.5 L564.5,200.1 L565.9,200.7 L567.3,201.3 L568.6,201.9 L570.0,202.5 L571.4,203.1 L572.8,203.7 L574.2,204.3 L575.5,204.9 L576.9,205.5 L578.3,206.1 L579.7,206.7 L581.0,207.3 L582.4,208.0 L583.8,208.6 L585.2,209.2 L586.5,209.8 L587.9,210.5 L589.3,211.1 L590.6,211.7 L592.0,212.3 L593.4,213.0 L594.7,213.6 L596.1,214.3 L597.5,214.9 L598.8,215.6 L600.2,216.2 L601.5,216.9 L602.9,217.5 L604.3,218.2 L605.6,218.8 L607.0,219.5 L608.3,220.2 L609.7,220.8 L611.0,221.5 L612.4,222.2 L613.7,222.8 L615.1,223.5 L616.4,224.2 L617.8,224.9 L619.1,225.6 L620.5,226.3 L621.8,226.9 L623.1,227.6 L624.5,228.3 L625.8,229.0 L627.2,229.7 L628.5,230.4 L629.8,231.1 L631.2,231.8 L632.5,232.6 L633.8,233.3 L635.2,234.0 L636.5,234.7 L637.8,235.4 L639.1,236.1 L640.5,236.8 L641.8,237.6 L643.1,238.3 L644.4,239.0 L645.7,239.7 L647.0,240.4 L648.4,241.2 L649.7,241.9 L651.0,242.6 L652.3,243.3 L653.6,244.1 L654.9,244.8 L656.2,245.5 L657.4,246.3 L658.7,247.1 L660.0,247.9 L661.2,248.7 L662.5,249.5 L663.7,250.3 L665.0,251.2 L666.2,252.0 L667.5,252.8 L668.7,253.7 L669.9,254.6 L671.1,255.4 L672.4,256.3 L673.6,257.2 L674.8,258.0 L676.0,258.9 L677.3,259.8 L678.5,260.7 L679.7,261.5 L681.0,262.4 L682.2,263.2 L683.4,264.1 L684.7,264.9 L685.9,265.8 L687.2,266.6 L688.4,267.5 L689.6,268.3 L690.9,269.1 L692.1,270.0 L693.4,270.8 L694.6,271.7 L695.9,272.5 L697.1,273.3 L698.4,274.2 L699.6,275.0 L700.9,275.8 L702.1,276.7 L703.4,277.5 L704.6,278.3 L705.9,279.2 L707.1,280.0 L708.4,280.8 L709.6,281.7 L710.9,282.5 L712.1,283.4 L713.3,284.2 L714.6,285.0 L715.8,285.9 L717.1,286.7 L718.3,287.6 L719.6,288.4 L720.8,289.3 L722.1,290.2 L723.3,291.0 L724.6,291.9 L725.8,292.8 L727.0,293.6 L728.3,294.5 L729.5,295.4 L730.7,296.3 L731.9,297.2 L733.2,298.1 L734.4,299.0 L735.6,299.9 L736.8,300.8 L738.0,301.7 L739.2,302.6 L740.4,303.6 L741.6,304.5 L742.8,305.4 L744.0,306.4 L745.1,307.3 L746.3,308.3 L747.5,309.3 L748.6,310.2 L749.8,311.2 L750.9,312.2 L752.1,313.2 L753.2,314.2 L754.3,315.2 L755.4,316.2 L756.5,317.2 L757.6,318.3 L758.7,319.3 L759.8,320.4 L760.8,321.4 L761.9,322.5 L762.9,323.6 L764.0,324.6 L765.0,325.7 L766.0,326.8 L767.0,327.9 L768.0,329.1 L769.0,330.2 L769.9,331.3 L770.9,332.5 L771.8,333.7 L772.8,334.8 L773.7,336.0 L774.6,337.2 L775.5,338.4 L776.4,339.6 L777.3,340.8 L778.1,342.1 L778.9,343.3 L779.8,344.6 L780.6,345.9 L781.4,347.2 L782.1,348.5 L782.9,349.8" fill="none" stroke="#000" stroke-width="4.0" stroke-linejoin="round" stroke-linecap="butt"/>
<path d="M367.1,268.1 L368.5,268.6 L369.9,269.1 L371.3,269.6 L372.7,270.1 L374.2,270.7 L375.6,271.2 L377.0,271.7 L378.4,272.2 L379.8,272.7 L381.2,273.3 L382.7,273.8 L384.1,274.3 L385.5,274.8 L386.9,275.3 L388.3,275.9 L389.7,276.4 L391.1,276.9 L392.6,277.4 L394.0,277.9 L395.4,278.5 L396.8,279.0 L398.2,279.5 L399.6,280.0 L401.0,280.5 L402.5,281.1 L403.9,281.6 L405.3,282.1 L406.7,282.6 L408.1,283.1 L409.5,283.6 L410.9,284.1 L412.4,284.7 L413.8,285.2 L415.2,285.7 L416.6,286.2 L418.0,286.7 L419.4,287.2 L420.8,287.7 L422.3,288.2 L423.7,288.7 L425.1,289.2 L426.5,289.7 L427.9,290.2 L429.3,290.7 L430.8,291.2 L432.2,291.7 L433.6,292.2 L435.0,292.7 L436.4,293.2 L437.9,293.7 L439.3,294.2 L440.7,294.7 L442.1,295.2 L443.5,295.7 L445.0,296.2 L446.4,296.7 L447.8,297.1 L449.2,297.6 L450.7,298.1 L452.1,298.6 L453.5,299.1 L454.9,299.5 L456.4,300.0 L457.8,300.5 L459.2,301.0 L460.6,301.4 L462.1,301.9 L463.5,302.4 L464.9,302.8 L466.4,303.3 L467.8,303.8 L469.2,304.2 L470.7,304.7 L472.1,305.1 L473.6,305.6 L475.0,306.0 L476.4,306.5 L477.9,306.9 L479.3,307.4 L480.8,307.8 L482.2,308.3 L483.6,308.7 L485.1,309.1 L486.5,309.6 L488.0,310.0 L489.4,310.4 L490.9,310.9 L492.3,311.3 L493.8,311.7 L495.2,312.2 L496.7,312.6 L498.1,313.0 L499.6,313.5 L501.0,313.9 L502.5,314.3 L503.9,314.7 L505.4,315.2 L506.8,315.6 L508.3,316.0 L509.7,316.5 L511.2,316.9 L512.6,317.3 L514.1,317.8 L515.5,318.2 L517.0,318.6 L518.4,319.1 L519.8,319.5 L521.3,320.0 L522.7,320.4 L524.2,320.8 L525.6,321.3 L527.1,321.7 L528.5,322.2 L529.9,322.7 L531.4,323.1 L532.8,323.6 L534.2,324.0 L535.7,324.5 L537.1,325.0 L538.5,325.5 L540.0,326.0 L541.4,326.4 L542.8,326.9 L544.2,327.4 L545.6,327.9 L547.1,328.4 L548.5,328.9 L549.9,329.4 L551.3,330.0 L552.7,330.5 L554.1,331.0 L555.5,331.6 L556.9,332.1 L558.3,332.6 L559.7,333.2 L561.1,333.8 L562.5,334.3 L563.9,334.9 L565.2,335.5 L566.6,336.1 L568.0,336.7 L569.4,337.3 L570.7,337.9 L572.1,338.5 L573.5,339.1 L574.8,339.7 L576.2,340.4 L577.5,341.0 L578.9,341.6 L580.3,342.3 L581.6,342.9 L582.9,343.6 L584.3,344.3 L585.6,344.9 L587.0,345.6 L588.3,346.3 L589.6,347.0 L591.0,347.6 L592.3,348.3 L593.6,349.0 L595.0,349.7 L596.3,350.4 L597.6,351.1 L599.0,351.8 L600.3,352.5 L601.6,353.2 L602.9,354.0 L604.3,354.7 L605.6,355.4 L606.9,356.1 L608.2,356.8 L609.6,357.6 L610.9,358.3 L612.2,359.0 L613.5,359.7 L614.8,360.5 L616.2,361.2 L617.5,361.9 L618.8,362.6 L620.1,363.4 L621.5,364.1 L622.8,364.8 L624.1,365.5 L625.4,366.3 L626.8,367.0 L628.1,367.7 L629.4,368.4 L630.7,369.2 L632.1,369.9 L633.4,370.6 L634.7,371.3 L636.1,372.0 L637.4,372.8 L638.7,373.5 L640.1,374.2 L641.4,374.9 L642.7,375.6 L644.1,376.3 L645.4,377.1 L646.7,377.8 L648.1,378.5 L649.4,379.2 L650.7,379.9 L652.1,380.7 L653.4,381.4 L654.7,382.1 L656.0,382.9 L657.4,383.6 L658.7,384.3 L660.0,385.1 L661.3,385.8 L662.6,386.6 L663.9,387.3 L665.2,388.1 L666.6,388.8 L667.9,389.6 L669.2,390.3 L670.5,391.1 L671.8,391.9 L673.0,392.6 L674.3,393.4 L675.6,394.2 L676.9,395.0 L678.2,395.8 L679.5,396.6 L680.7,397.4 L682.0,398.2 L683.3,399.0 L684.5,399.9 L685.8,400.7 L687.0,401.5 L688.3,402.4 L689.5,403.2 L690.7,404.1 L692.0,404.9 L693.2,405.8 L694.4,406.7 L695.6,407.6 L696.8,408.5 L698.0,409.4 L699.2,410.3 L700.4,411.2 L701.6,412.1 L702.7,413.1 L703.9,414.0 L705.1,415.0 L706.2,415.9 L707.4,416.9 L708.5,417.9 L709.6,418.8 L710.7,419.8 L711.9,420.8 L713.0,421.9 L714.1,422.9 L715.1,423.9 L716.2,425.0 L717.3,426.0 L718.3,427.1 L719.4,428.1 L720.4,429.2 L721.4,430.3 L722.5,431.4 L723.5,432.5 L724.5,433.6 L725.5,434.8 L726.4,435.9 L727.4,437.0 L728.4,438.2 L729.3,439.4 L730.3,440.5 L731.2,441.7 L732.1,442.9 L733.0,444.1 L734.0,445.3 L734.9,446.5 L735.7,447.7 L736.6,448.9 L737.5,450.1 L738.4,451.4 L739.2,452.6 L740.1,453.9 L740.9,455.1 L741.8,456.4 L742.6,457.6 L743.4,458.9 L744.2,460.2 L745.0,461.5 L745.8,462.8 L746.6,464.0 L747.4,465.3 L748.2,466.6 L748.9,467.9 L749.7,469.3 L750.5,470.6 L751.2,471.9 L751.9,473.2 L752.7,474.5 L753.4,475.9 L754.1,477.2 L754.8,478.5 L755.5,479.9 L756.2,481.2 L756.9,482.6 L757.6,483.9 L758.3,485.2 L759.0,486.6 L759.7,488.0 L760.3,489.3 L761.0,490.7 L761.6,492.0 L762.3,493.4 L762.9,494.7 L763.5,496.1 L764.2,497.5 L764.8,498.8 L765.4,500.2 L766.0,501.6" fill="none" stroke="#000" stroke-width="4.0" stroke-linejoin="round" stroke-linecap="butt"/>
<path d="M731.2,438.7 L732.4,439.6 L733.7,440.5 L734.9,441.3 L736.2,442.2 L737.4,443.1 L738.7,444.0 L739.9,444.9 L741.1,445.8 L742.3,446.7 L743.5,447.6 L744.7,448.5 L745.9,449.4 L747.1,450.4 L748.3,451.3 L749.5,452.2 L750.7,453.2 L751.9,454.1 L753.1,455.1 L754.3,456.0 L755.4,457.0 L756.6,457.9 L757.8,458.9 L758.9,459.8 L760.1,460.8 L761.2,461.8 L762.4,462.8 L763.5,463.8 L764.7,464.7 L765.8,465.7 L767.0,466.7 L768.1,467.7 L769.2,468.7 L770.4,469.7 L771.5,470.7 L772.6,471.7 L773.7,472.7 L774.9,473.8 L776.0,474.8 L777.1,475.8 L778.2,476.8 L779.3,477.8 L780.4,478.9 L781.5,479.9 L782.6,480.9 L783.7,482.0 L784.8,483.0 L785.9,484.0 L787.0,485.1 L788.1,486.1 L789.2,487.2 L790.3,488.2 L791.4,489.3 L792.5,490.3 L793.6,491.4 L794.7,492.4 L795.7,493.5 L796.8,494.5 L797.9,495.6 L799.0,496.7 L800.1,497.7 L801.1,498.8 L802.2,499.8 L803.3,500.9 L804.4,502.0 L805.5,503.0 L806.5,504.1 L807.6,505.1 L808.7,506.2 L809.8,507.3 L810.8,508.3 L811.9,509.4 L813.0,510.5 L814.1,511.5 L815.1,512.6 L816.2,513.7 L817.3,514.7 L818.4,515.8 L819.4,516.9 L820.5,517.9 L821.6,519.0 L822.7,520.1 L823.8,521.1 L824.8,522.2 L825.9,523.2 L827.0,524.3 L828.1,525.4 L829.2,526.4 L830.2,527.5 L831.3,528.5 L832.4,529.6 L833.5,530.6 L834.6,531.7 L835.7,532.7 L836.8,533.8 L837.9,534.8 L839.0,535.9 L840.1,536.9 L841.2,538.0 L842.3,539.0 L843.4,540.1 L844.5,541.1 L845.6,542.1 L846.7,543.2 L847.8,544.2 L848.9,545.2 L850.0,546.2 L851.1,547.3 L852.3,548.3 L853.4,549.3 L854.5,550.3 L883.0,581.5 L911.5,624.3 L923.0,650.0 L931.0,668.5 L938.2,686.7" fill="none" stroke="#000" stroke-width="4.0" stroke-linejoin="round" stroke-linecap="butt"/>
<line x1="793.8" y1="650.2" x2="1131.7" y2="650.2" stroke="#000" stroke-width="4"/>
<path d="M1300.4,474.6 H1342 Q1348,474.6 1348,468 V437 L1347.2,410 Q1347.5,400 1351.8,400 Q1356.3,400 1356.6,410 L1357.6,437 L1358.3,492 Q1358.5,498 1364,498 H1399" fill="none" stroke="#000" stroke-width="3.9"/>
<path d="M179.1,389.1 L202.0,392.6 M212.4,394.2 L236.3,397.9 M245.7,399.3 L269.6,403.0 M279.0,404.4 L302.9,408.1 M312.3,409.5 L336.2,413.2 M345.6,414.7 L362.2,417.2" fill="none" stroke="#000" stroke-width="4.0" stroke-linejoin="round" stroke-linecap="butt"/>
<path d="M362.7,353.8 L363.9,354.7 L365.2,355.5 L366.4,356.3 L367.7,357.1 L369.0,357.9 L370.2,358.8 L371.5,359.6 L372.7,360.4 L374.0,361.2 L375.3,362.0 L376.5,362.9 L377.8,363.7 L379.0,364.5 L380.3,365.4 L381.6,366.2 L382.4,366.8 M390.2,372.0 L390.3,372.1 L391.6,372.9 L392.8,373.8 L394.1,374.6 L395.3,375.5 L396.6,376.3 L397.8,377.2 L399.0,378.0 L400.3,378.9 L401.5,379.7 L402.8,380.6 L404.0,381.5 L405.2,382.3 L406.5,383.2 L407.7,384.1 L408.9,384.9 L410.1,385.8 L410.8,386.3 M417.9,391.4 L418.7,392.0 L419.9,392.9 L421.1,393.8 L422.3,394.7 L423.5,395.6 L424.7,396.5 L425.9,397.5 L427.1,398.4 L428.3,399.3 L429.5,400.2 L430.7,401.1 L431.9,402.1 L433.1,403.0 L434.2,403.9 L435.4,404.9 L436.6,405.8 L437.6,406.6 M445.6,413.2 L445.9,413.4 L447.1,414.4 L448.2,415.4 L449.4,416.4 L450.5,417.3 L451.6,418.3 L452.8,419.3 L453.9,420.3 L455.0,421.3 L456.2,422.3 L457.3,423.3 L458.4,424.3 L459.5,425.3 L460.6,426.3 L461.8,427.3 L462.9,428.4 L463.0,428.5 M470.4,435.4 L470.5,435.6 L471.6,436.6 L472.7,437.7 L473.8,438.7 L474.8,439.8 L475.9,440.9 L477.0,441.9 L478.0,443.0 L479.1,444.1 L480.1,445.1 L481.2,446.2 L482.2,447.3 L483.3,448.4 L484.3,449.5 L485.4,450.6 L486.4,451.7 L486.8,452.1 M493.9,459.8 L494.5,460.5 L495.5,461.7 L496.5,462.8 L497.5,463.9 L498.5,465.1 L499.5,466.2 L500.5,467.3 L501.5,468.5 L502.4,469.6 L503.4,470.8 L504.4,471.9 L505.4,473.1 L506.3,474.3 L507.3,475.4 L508.2,476.6 L509.0,477.6 M515.3,485.5 L515.8,486.0 L516.7,487.2 L517.6,488.4 L518.5,489.6 L519.4,490.8 L520.4,492.0 L521.3,493.2 L522.2,494.4 L523.1,495.6 L524.0,496.9 L524.9,498.1 L525.8,499.3 L526.7,500.5 L527.5,501.7 L528.4,502.9 L529.3,504.2 L529.4,504.3 M535.3,512.7 L535.4,512.8 L536.2,514.1 L537.1,515.3 L537.9,516.6 L538.8,517.8 L539.6,519.1 L540.4,520.3 L541.3,521.6 L542.1,522.8 L542.9,524.1 L543.8,525.4 L544.6,526.6 L545.4,527.9 L546.2,529.2 L547.0,530.4 L547.8,531.7 L548.2,532.2 M553.3,540.5 L553.4,540.7 L554.2,541.9 L555.0,543.2 L555.8,544.5 L556.5,545.8 L557.3,547.1 L558.1,548.4 L558.9,549.7 L559.6,551.0 L560.4,552.3 L561.1,553.6 L561.9,554.9 L562.6,556.2 L563.4,557.5 L564.1,558.8 L564.9,560.1 L565.6,561.4" fill="none" stroke="#000" stroke-width="4.0" stroke-linejoin="round" stroke-linecap="butt"/>
<path d="M514.2,459.6 L515.4,460.0 L516.9,460.4 L518.4,460.8 L519.8,461.1 L521.3,461.5 L522.7,461.9 L524.2,462.3 L525.7,462.6 L527.1,463.0 L528.6,463.4 L530.1,463.7 L531.5,464.0 L533.0,464.4 L534.5,464.7 L534.6,464.8 M547.3,467.8 L547.7,467.9 L549.1,468.2 L550.6,468.6 L552.1,469.0 L553.5,469.4 L555.0,469.8 L556.4,470.2 L557.9,470.6 L559.3,471.0 L560.7,471.4 L562.2,471.9 L563.6,472.3 L565.0,472.8 L566.5,473.2 L567.9,473.7 L569.3,474.2 L569.8,474.4 M579.6,478.0 L580.6,478.4 L582.0,478.9 L583.4,479.4 L584.9,479.9 L586.3,480.4 L587.7,480.9 L589.2,481.4 L590.6,481.9 L592.0,482.4 L593.5,483.0 L594.9,483.5 L596.3,484.0 L597.7,484.6 L599.1,485.2 L600.5,485.8 L601.8,486.4 L601.9,486.4 M609.7,490.5 L609.8,490.5 L611.1,491.3 L612.4,492.0 L613.7,492.8 L614.9,493.6 L616.2,494.5 L617.4,495.3 L618.7,496.2 L619.9,497.1 L621.1,498.0 L622.3,498.9 L623.5,499.8 L624.6,500.7 L625.8,501.7 L627.0,502.6 L628.1,503.6 L628.7,504.1 M636.9,511.6 L637.0,511.8 L638.1,512.8 L639.2,513.9 L640.2,515.0 L641.3,516.1 L642.3,517.2 L643.3,518.3 L644.4,519.4 L645.4,520.5 L646.4,521.6 L647.4,522.7 L648.4,523.9 L649.3,525.0 L650.3,526.2 L651.3,527.3 L652.2,528.5 L652.5,528.8 M658.5,536.5 L658.7,536.8 L659.6,538.0 L660.5,539.2 L661.3,540.5 L662.2,541.7 L663.0,542.9 L663.9,544.2 L664.7,545.4 L665.6,546.7 L666.4,548.0 L667.2,549.2 L668.0,550.5 L668.8,551.8 L669.6,553.0 L670.4,554.3 L671.1,555.6 L671.9,556.9 L672.1,557.3 M676.5,565.1 L677.0,566.1 L677.7,567.5 L678.4,568.8 L679.1,570.2 L679.8,571.5 L680.4,572.9 L681.1,574.2 L681.8,575.6 L682.4,576.9 L683.0,578.3 L683.7,579.7 L684.3,581.1 L684.9,582.4 L685.5,583.8 L686.1,585.2 L686.4,585.9 M690.3,595.7 L690.5,596.4 L691.0,597.8 L691.6,599.2 L692.1,600.7 L692.6,602.1 L693.1,603.5 L693.6,604.9 L694.0,606.4 L694.5,607.8 L695.0,609.2 L695.5,610.7 L695.9,612.1 L696.4,613.5 L696.8,615.0 L697.3,616.4 L697.7,617.8 L698.0,618.6 M700.8,628.5 L701.1,629.4 L701.5,630.9 L701.9,632.4 L702.3,633.8 L702.7,635.3 L703.1,636.7 L703.5,638.2 L703.9,639.6 L704.3,641.1 L704.7,642.6 L705.0,644.0 L705.4,645.5 L705.8,646.9 L706.2,648.4 L706.6,649.9 L706.9,651.3" fill="none" stroke="#000" stroke-width="4.0" stroke-linejoin="round" stroke-linecap="butt"/>
<path d="M424.9,501.1 L426.3,501.7 L427.7,502.2 L429.1,502.8 L430.4,503.4 L431.8,503.9 L433.2,504.5 L434.6,505.1 L436.0,505.7 L437.3,506.3 L438.7,506.8 L440.1,507.4 L441.5,508.0 L442.9,508.6 L444.2,509.2 L445.6,509.8 L447.0,510.4 L448.4,511.0 L449.8,511.6 L451.1,512.2 L452.5,512.8 L453.9,513.4 L455.3,514.0 L456.7,514.6 L458.0,515.3 L459.4,515.9 L460.8,516.5 L462.2,517.1 L463.6,517.7 L464.9,518.3 L466.3,518.9 L467.7,519.5 L467.8,519.6 M477.8,524.0 L478.8,524.4 L480.2,525.0 L481.6,525.6 L483.0,526.2 L484.4,526.8 L485.7,527.4 L487.1,528.0 L488.5,528.6 L489.9,529.2 L490.0,529.3 M500.2,533.5 L501.1,533.9 L502.5,534.5 L503.9,535.0 L505.3,535.6 L506.7,536.1 L508.1,536.7 L509.5,537.2 L510.9,537.8 L512.4,538.3 L513.8,538.9 L515.2,539.4 L516.6,539.9 L518.0,540.4 L519.4,541.0 L520.8,541.5 L522.3,542.0 L523.7,542.5 L525.1,543.0 L526.5,543.5 L528.0,543.9 L529.4,544.4 L530.8,544.9 L532.2,545.4 L533.7,545.8 L535.1,546.3 L536.5,546.7 L538.0,547.2 L539.4,547.6 L540.9,548.0 L542.3,548.4 L543.7,548.9 L544.1,549.0 M554.7,551.7 L555.4,551.9 L556.8,552.2 L558.3,552.6 L559.7,552.9 L561.2,553.2 L562.7,553.5 L564.1,553.8 L565.6,554.1 L567.1,554.4 L568.6,554.6 L568.8,554.7 M578.6,556.2 L579.0,556.3 L580.5,556.5 L582.0,556.6 L583.4,556.8 L584.9,557.0 L586.4,557.2 L587.9,557.3 L589.4,557.5 L590.9,557.6 L592.5,557.7 L594.0,557.9 L595.5,558.0 L597.0,558.1 L598.5,558.2 L600.0,558.3 L601.5,558.4 L603.0,558.5 L604.5,558.5 L606.0,558.6 L607.5,558.7 L609.0,558.7 L610.5,558.8 L612.1,558.9 L613.6,558.9 L615.1,558.9 L616.6,559.0 L618.1,559.0 L619.6,559.0 L621.1,559.1 L622.6,559.1 L624.1,559.1 L625.6,559.1 M636.3,559.0 L637.7,559.0 L639.2,559.0 L640.7,558.9 L642.2,558.9 L643.7,558.9 L645.3,558.8 L646.8,558.7 L648.3,558.7 L649.8,558.6 L650.5,558.6 M661.3,557.9 L662.1,557.9 L663.6,557.8 L665.2,557.8 L666.7,557.7 L668.2,557.7 L669.7,557.7 L671.3,557.6 L672.8,557.7 L674.3,557.7 L675.8,557.8 L677.3,557.9 L678.8,558.0 L680.3,558.1 L681.8,558.3 L683.3,558.5 L684.8,558.8 L686.2,559.1 L687.7,559.4 L689.1,559.8 L690.5,560.2 L692.0,560.6 L693.4,561.1 L694.8,561.6 L696.2,562.1 L697.5,562.7 L698.9,563.3 L700.2,564.0 L701.6,564.7 L702.9,565.4 L704.2,566.1 L705.4,566.9 L705.5,566.9 M714.6,573.7 L714.9,574.0 L716.0,575.0 L717.0,576.0 L718.1,577.1 L719.1,578.1 L720.1,579.2 L721.0,580.3 L722.0,581.4 L722.9,582.6 L723.8,583.7 L723.9,583.9 M729.4,591.9 L729.6,592.3 L730.4,593.5 L731.2,594.8 L731.9,596.1 L732.7,597.4 L733.4,598.7 L734.1,600.1 L734.8,601.4 L735.5,602.8 L736.2,604.1 L736.9,605.5 L737.5,606.9 L738.2,608.2 L738.8,609.6 L739.5,611.0 L740.1,612.4 L740.8,613.8 L741.4,615.2 L742.1,616.6 L742.7,618.0 L743.3,619.4 L744.0,620.8 L744.6,622.2 L745.2,623.6 L745.8,625.0 L746.5,626.5 L747.1,627.9 L747.8,629.3 L748.4,630.6 L749.1,632.0 L749.7,633.4 L750.4,634.8 L750.7,635.5 M754.6,643.2 L755.2,644.3 L755.9,645.7 L756.6,647.0 L757.3,648.3 L758.1,649.7 L758.8,651.0 L759.5,652.3 L760.3,653.6 L761.0,654.9 L761.8,656.2 L762.3,657.2 M767.0,665.0 L767.2,665.3 L768.0,666.5 L768.8,667.8 L769.5,669.1 L770.3,670.3 L771.1,671.6 L771.9,672.9 L772.7,674.1 L773.5,675.4 L774.4,676.7 L775.2,677.9 L776.0,679.2 L776.8,680.4 L777.6,681.7 L778.4,682.9 L779.2,684.2 L780.1,685.5 L780.9,686.7 L781.7,688.0 L782.5,689.2 L783.3,690.5 L784.2,691.7 L785.0,693.0 L785.8,694.2 L786.6,695.5 L787.5,696.7 L788.3,698.0 L789.1,699.2 L789.9,700.5 L790.7,701.7 L791.6,703.0 L792.4,704.3 L792.8,704.9 M797.9,713.0 L798.0,713.1 L798.8,714.4 L799.6,715.7 L800.4,717.0 L801.2,718.3 L802.0,719.6 L802.8,720.9 L803.6,722.1 L804.4,723.4 L805.1,724.8 L805.9,726.1 L806.0,726.1 M810.4,733.9 L810.5,734.0 L811.2,735.3 L811.9,736.7 L812.7,738.0 L813.3,739.3" fill="none" stroke="#000" stroke-width="4.0" stroke-linejoin="round" stroke-linecap="butt"/>
<path d="M505.2,471.4 L506.6,471.9 L508.1,472.5 L509.5,473.0 L510.9,473.6 L512.3,474.1 L513.7,474.7 L515.1,475.2 L516.5,475.8 L517.9,476.3 L519.3,476.9 L520.8,477.4 L522.2,478.0 L523.6,478.5 L525.0,479.1 L526.2,479.5 M535.6,483.2 L536.3,483.5 L537.7,484.1 L539.1,484.6 L540.5,485.2 L541.9,485.7 L543.3,486.3 L544.7,486.8 L546.2,487.4 L547.6,487.9 L549.0,488.5 L550.4,489.0 L551.8,489.6 L553.2,490.1 L554.6,490.7 L556.0,491.3 L556.9,491.6 M567.9,495.9 L568.7,496.2 L570.1,496.8 L571.5,497.4 L573.0,497.9 L574.4,498.5 L575.8,499.0 L577.2,499.6 L578.6,500.1 L580.0,500.7 L581.4,501.2 L582.8,501.8 L584.2,502.4 L585.6,502.9 L587.1,503.5 L588.5,504.0 L589.2,504.3 M598.2,507.9 L598.3,507.9 L599.7,508.5 L601.1,509.0 L602.6,509.6 L604.0,510.1 L605.4,510.7 L606.8,511.3 L608.2,511.8 L609.6,512.4 L611.0,512.9 L612.4,513.5 L613.8,514.0 L615.2,514.6 L616.7,515.2 L618.1,515.7 L619.5,516.3 L620.0,516.5 M629.3,520.2 L630.7,520.7 L632.2,521.3 L633.6,521.8 L635.0,522.4 L636.4,522.9 L637.8,523.5 L639.2,524.1 L640.6,524.6 L642.0,525.2 L643.4,525.7 L644.8,526.3 L646.3,526.8 L647.7,527.4 L649.1,528.0 L650.5,528.5 L651.9,529.1 L652.5,529.3 M660.8,532.6 L661.8,533.0 L663.2,533.5 L664.6,534.1 L666.0,534.6 L667.4,535.2 L668.8,535.7 L670.2,536.3 L671.6,536.9 L673.0,537.4 L674.4,538.0 L675.8,538.5 L677.3,539.1 L678.7,539.6 L680.1,540.2 L681.5,540.7 L682.7,541.2 M692.4,545.0 L692.8,545.2 L694.2,545.7 L695.6,546.3 L697.0,546.9 L698.4,547.4 L699.8,548.0 L701.2,548.5 L702.6,549.1 L704.0,549.6 L705.4,550.2 L706.9,550.7 L708.3,551.3 L709.7,551.8 L711.1,552.4 L712.5,553.0 L713.9,553.5 L714.3,553.7 M723.9,557.4 L725.2,557.9 L726.6,558.5 L728.0,559.0 L729.4,559.6 L730.8,560.2 L732.2,560.7 L733.6,561.3 L735.1,561.8 L736.5,562.4 L737.9,562.9 L739.3,563.5 L740.7,564.0 L742.1,564.6 L743.5,565.1 L744.9,565.7 L746.3,566.2 M755.7,569.9 L756.2,570.1 L757.6,570.6 L759.0,571.2 L760.4,571.7 L761.9,572.3 L763.3,572.8 L764.7,573.4 L766.1,573.9 L767.5,574.5 L768.9,575.0 L770.3,575.6 L771.7,576.1 L773.1,576.7 L774.6,577.2 L776.0,577.8 L777.4,578.3" fill="none" stroke="#000" stroke-width="4.0" stroke-linejoin="round" stroke-linecap="butt"/>
<path d="M780.1,580.7 L780.9,582.0 L781.7,583.4 L782.5,584.7 L783.3,586.0 L784.1,587.4 L784.9,588.7 L785.7,590.1 L786.4,591.4 L787.2,592.7 L788.0,594.1 L788.8,595.4 L789.6,596.8 L790.3,598.1 L791.1,599.5 L791.9,600.8 L792.6,602.2 L793.4,603.5 L794.2,604.9 L794.9,606.2 L795.7,607.6 L796.5,608.9 L797.2,610.3 L798.0,611.7 L798.8,613.0 L799.5,614.4 L800.3,615.7 L801.0,617.1 L801.8,618.5 L802.5,619.8 L803.3,621.2 L804.0,622.5 L804.8,623.9 L805.5,625.3 L806.3,626.6 L807.0,628.0" fill="none" stroke="#000" stroke-width="4.0" stroke-linejoin="round" stroke-linecap="butt"/>
<path d="M812.8,638.6 L813.7,639.8 L814.6,641.1 L815.5,642.3 L816.4,643.6 L817.3,644.9 L818.1,646.1 L819.0,647.4 L819.8,648.7 L820.6,650.0 L821.4,651.3 L822.2,652.6 L823.0,653.9 L823.8,655.3 L824.5,656.6 L825.3,657.9 L825.6,658.5 M830.9,668.3 L831.2,668.7 L831.9,670.0 L832.6,671.4 L833.3,672.8 L834.0,674.1 L834.7,675.5 L835.4,676.8 L836.1,678.2 L836.9,679.6 L837.6,680.9 L838.3,682.3 L839.0,683.6 L839.7,685.0 L840.5,686.3 L841.2,687.7 L841.9,689.0 L842.0,689.2 M847.1,698.0 L847.3,698.3 L848.1,699.6 L848.9,700.9 L849.8,702.2 L850.6,703.5" fill="none" stroke="#000" stroke-width="4.0" stroke-linejoin="round" stroke-linecap="butt"/>
<rect x="154.5" y="10.1" width="1244.9" height="731.3" fill="none" stroke="#000" stroke-width="4.5"/>
<rect x="169.2" y="183" width="197.8" height="32.6" fill="#ececec" stroke="#000" stroke-width="3.2"/>
<text x="179" y="209.1" font-size="29.3">Gridded Tube</text>
<rect x="162.7" y="238.7" width="204.6" height="68.2" fill="#ececec" stroke="#000" stroke-width="3.2"/>
<text x="173.8" y="266.5" font-size="28.9">PPM Focused</text>
<text x="197.6" y="300.6" font-size="29.1">Helix TWT</text>
<rect x="465.2" y="205.6" width="71" height="32.3" fill="#ececec" stroke="#000" stroke-width="3.2"/>
<text x="472.8" y="232.8" font-size="29.5">CFA</text>
<rect x="545.9" y="129.4" width="126.1" height="31.6" fill="#ececec" stroke="#000" stroke-width="3.2"/>
<text x="556.9" y="155.7" font-size="29.1">Klystron</text>
<rect x="801.8" y="195.7" width="134.9" height="32.4" fill="#ececec" stroke="#000" stroke-width="3.2"/>
<text x="812.2" y="221.7" font-size="28.9">Gyrotron</text>
<rect x="1115.7" y="211.9" width="156.8" height="81.8" fill="#ececec" stroke="#000" stroke-width="3.2"/>
<text x="1132.7" y="247" font-size="34.5">Vacuum</text>
<text x="1134.8" y="283" font-size="33.5">Devices</text>
<rect x="782.9" y="344.6" width="257" height="69.8" fill="#ececec" stroke="#000" stroke-width="3.2"/>
<text x="793.8" y="372.1" font-size="29.1">Solenoid Focused</text>
<text x="858.3" y="406.1" font-size="29.4">CC - TWT</text>
<rect x="810.1" y="515.9" width="86.9" height="32.3" fill="#ececec" stroke="#000" stroke-width="3.2"/>
<text x="820" y="542.7" font-size="29.1">BWO</text>
<rect x="997.5" y="630.8" width="69.9" height="33.1" fill="#ececec" stroke="#000" stroke-width="3.2"/>
<text x="1005.9" y="657.9" font-size="29.3">FEL</text>
<rect x="1262.3" y="490.6" width="70.6" height="32.6" fill="#ececec" stroke="#000" stroke-width="3.2"/>
<text x="1271.4" y="517.8" font-size="29.1">FEL</text>
<rect x="180.4" y="407.4" width="60.6" height="32.8" fill="#ababab" stroke="#000" stroke-width="3.2"/>
<text x="189.6" y="434.2" font-size="28.6">SIT</text>
<rect x="379" y="431.7" width="71" height="33" fill="#ababab" stroke="#000" stroke-width="3.2"/>
<text x="389" y="457.9" font-size="29.1">BJT</text>
<rect x="568.2" y="445.2" width="133.1" height="31.8" fill="#ababab" stroke="#000" stroke-width="3.2"/>
<text x="574.7" y="470.9" font-size="29">MESFET</text>
<rect x="755.1" y="596.4" width="125.4" height="32.5" fill="#ababab" stroke="#000" stroke-width="3.2"/>
<text x="765" y="623.5" font-size="30.1">IMPATT</text>
<rect x="665.1" y="688.6" width="114.8" height="32.5" fill="#ababab" stroke="#000" stroke-width="3.2"/>
<text x="672.4" y="714.3" font-size="28.7">PHEMT</text>
<rect x="240.3" y="590.8" width="208.6" height="82.5" fill="#ababab" stroke="#000" stroke-width="3.2"/>
<text x="262.6" y="626" font-size="33.7">Solid State</text>
<text x="284.3" y="661.7" font-size="33.7">Devices</text>
<polygon points="89.31,25.10 89.31,7.28 84.73,10.55 84.73,8.10 89.52,4.80 91.91,4.80 91.91,25.10" fill="#000"/>
<text x="98.3" y="25.1" font-size="29.5">0</text>
<text x="117.7" y="17.1" font-size="25.5">7</text>
<polygon points="89.31,106.10 89.31,88.28 84.73,91.55 84.73,89.10 89.52,85.80 91.91,85.80 91.91,106.10" fill="#000"/>
<text x="98.3" y="106.1" font-size="29.5">0</text>
<text x="117.5" y="98.4" font-size="25.5">6</text>
<polygon points="89.51,186.40 89.51,168.58 84.93,171.85 84.93,169.40 89.72,166.10 92.11,166.10 92.11,186.40" fill="#000"/>
<text x="98.5" y="186.4" font-size="29.5">0</text>
<text x="118.2" y="178.5" font-size="25.5">5</text>
<polygon points="89.91,266.60 89.91,248.78 85.33,252.05 85.33,249.60 90.12,246.30 92.51,246.30 92.51,266.60" fill="#000"/>
<text x="98.9" y="266.6" font-size="29.5">0</text>
<text x="118" y="259.7" font-size="25.5">4</text>
<polygon points="89.91,350.20 89.91,332.38 85.33,335.65 85.33,333.20 90.12,329.90 92.51,329.90 92.51,350.20" fill="#000"/>
<text x="98.9" y="350.2" font-size="29.5">0</text>
<text x="118.1" y="342.4" font-size="25.5">3</text>
<polygon points="89.91,431.20 89.91,413.38 85.33,416.65 85.33,414.20 90.12,410.90 92.51,410.90 92.51,431.20" fill="#000"/>
<text x="98.9" y="431.2" font-size="29.5">0</text>
<text x="117.8" y="424.3" font-size="25.5">2</text>
<polygon points="99.91,508.60 99.91,490.78 95.33,494.05 95.33,491.60 100.12,488.30 102.51,488.30 102.51,508.60" fill="#000"/>
<text x="108.9" y="508.6" font-size="29.5">0</text>
<polygon points="107.61,590.40 107.61,572.58 103.03,575.85 103.03,573.40 107.82,570.10 110.21,570.10 110.21,590.40" fill="#000"/>
<polygon points="83.81,676.30 83.81,658.48 79.23,661.75 79.23,659.30 84.02,656.00 86.41,656.00 86.41,676.30" fill="#000"/>
<text x="92.8" y="676.3" font-size="29.5">0</text>
<rect x="114.1" y="661.6" width="5.5" height="1.7" fill="#000"/>
<polygon points="132.50,668.60 132.50,653.20 128.54,656.02 128.54,653.91 132.69,651.06 134.75,651.06 134.75,668.60" fill="#000"/>
<polygon points="83.81,754.10 83.81,736.28 79.23,739.55 79.23,737.10 84.02,733.80 86.41,733.80 86.41,754.10" fill="#000"/>
<text x="92.8" y="754.1" font-size="29.5">0</text>
<rect x="114.1" y="739.4" width="5.5" height="1.7" fill="#000"/>
<text x="123.7" y="746.4" font-size="25.5">2</text>
<text x="141.4" y="778.4" font-size="29.5">.</text>
<polygon points="156.99,778.40 156.99,760.58 152.40,763.85 152.40,761.40 157.20,758.10 159.59,758.10 159.59,778.40" fill="#000"/>
<polygon points="356.21,778.40 356.21,760.58 351.63,763.85 351.63,761.40 356.42,758.10 358.81,758.10 358.81,778.40" fill="#000"/>
<polygon points="554.51,778.50 554.51,760.68 549.93,763.95 549.93,761.50 554.72,758.20 557.11,758.20 557.11,778.50" fill="#000"/>
<text x="563.5" y="778.5" font-size="29.5">0</text>
<polygon points="754.51,780.90 754.51,763.08 749.93,766.35 749.93,763.90 754.72,760.60 757.11,760.60 757.11,780.90" fill="#000"/>
<text x="763.5" y="780.9" font-size="29.5">00</text>
<polygon points="950.01,780.50 950.01,762.68 945.43,765.95 945.43,763.50 950.22,760.20 952.61,760.20 952.61,780.50" fill="#000"/>
<text x="959" y="780.5" font-size="29.5">,000</text>
<polygon points="1150.61,780.80 1150.61,762.98 1146.03,766.25 1146.03,763.80 1150.82,760.50 1153.21,760.50 1153.21,780.80" fill="#000"/>
<text x="1159.6" y="780.8" font-size="29.5">0,000</text>
<polygon points="1353.71,780.80 1353.71,762.98 1349.13,766.25 1349.13,763.80 1353.92,760.50 1356.31,760.50 1356.31,780.80" fill="#000"/>
<text x="1362.7" y="780.8" font-size="29.5">00,000</text>
<text x="647.9" y="834.1" font-size="33.8">Frequency (GHz)</text>
<text transform="translate(24.4,535.8) rotate(-90)" font-size="33.6">Average Power (W)</text>
</svg>
</body></html>
